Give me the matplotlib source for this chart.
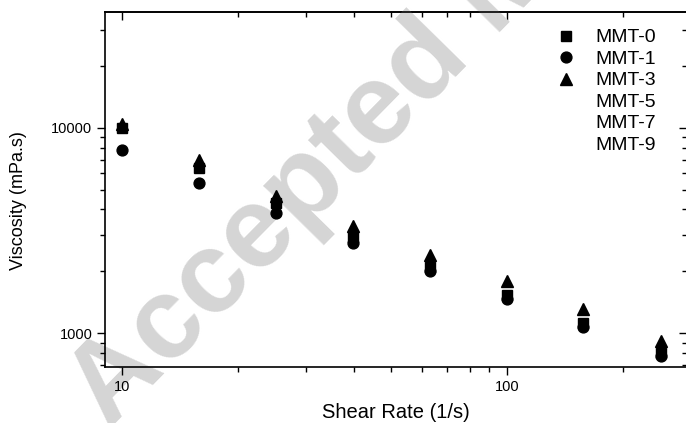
import matplotlib
matplotlib.use('Agg')
import matplotlib.pyplot as plt
from matplotlib.ticker import FuncFormatter, NullFormatter, LogLocator

plt.rcParams['font.family'] = ['Liberation Sans', 'DejaVu Sans']

# shear rate (1/s) and viscosity (mPa.s)
shear_rate = [10, 15.8, 25.1, 39.8, 63.1, 100, 158, 251]
mmt_0 = [9940, 6370, 4300, 2940, 2090, 1530, 1117, 798]
mmt_1 = [7790, 5380, 3850, 2750, 2010, 1469, 1072, 775]
mmt_3 = [10420, 6970, 4650, 3320, 2400, 1795, 1312, 916]
# these three only appear in the legend, no points are drawn for them
mmt_5 = []
mmt_7 = []
mmt_9 = []

series = [
    ('MMT-0', mmt_0, 's', 7.5),
    ('MMT-1', mmt_1, 'o', 7.8),
    ('MMT-3', mmt_3, '^', 8.5),
]
empty_series = [('MMT-5', mmt_5), ('MMT-7', mmt_7), ('MMT-9', mmt_9)]

W, H = 686, 423
fig = plt.figure(figsize=(W / 100, H / 100), dpi=100)
ax = fig.add_axes([105 / W, 1 - 367 / H, 582 / W, 355 / H])

# watermark behind everything
ax.text(109, H - 430, 'Accepted Manuscript', transform=None,
        fontsize=83, fontweight='bold', color='#d5d5d5',
        rotation=45.5, rotation_mode='anchor', ha='left', va='baseline',
        clip_on=False, zorder=0.5)

for label, vals, mk, ms in series:
    ax.plot(shear_rate, vals, ls='none', marker=mk, ms=ms, color='black',
            label=label, zorder=3)
for label, vals in empty_series:
    ax.plot(shear_rate[:len(vals)], vals, ls='none', marker='none', label=label)

ax.set_xscale('log')
ax.set_yscale('log')
ax.set_xlim(9.01, 294)
ax.set_ylim(685, 36530)

fmt = FuncFormatter(lambda v, p: f'{v:g}')
ax.xaxis.set_major_formatter(fmt)
ax.yaxis.set_major_formatter(fmt)
ax.xaxis.set_minor_formatter(NullFormatter())
ax.yaxis.set_minor_formatter(NullFormatter())
ax.tick_params(which='major', direction='out', length=6, width=1, labelsize=10.5, pad=3)
ax.tick_params(which='minor', direction='out', length=3.5, width=1)

# mirrored ticks pointing inward on top and right
top = ax.secondary_xaxis('top')
right = ax.secondary_yaxis('right')
for sec, axis in ((top, top.xaxis), (right, right.yaxis)):
    axis.set_major_locator(LogLocator(base=10))
    axis.set_minor_locator(LogLocator(base=10, subs=range(2, 10)))
    axis.set_major_formatter(NullFormatter())
    axis.set_minor_formatter(NullFormatter())
    sec.tick_params(which='major', direction='in', length=6, width=1)
    sec.tick_params(which='minor', direction='in', length=3.5, width=1)
    for sp in sec.spines.values():
        sp.set_linewidth(1.2)

for sp in ax.spines.values():
    sp.set_linewidth(1.2)

ax.set_xlabel('Shear Rate (1/s)', fontsize=14.5, labelpad=7)
ax.set_ylabel('Viscosity (mPa.s)', fontsize=13)
ax.yaxis.set_label_coords(-0.134, 0.47)

fs = 14
leg = ax.legend(loc='upper left', bbox_to_anchor=(556.3 / W, 1 - 28.7 / H),
                bbox_transform=fig.transFigure, frameon=False, fontsize=fs,
                borderpad=0, borderaxespad=0, handlelength=1.0,
                handletextpad=0.99, labelspacing=0.2)

fig.savefig('out.png', dpi=100)
